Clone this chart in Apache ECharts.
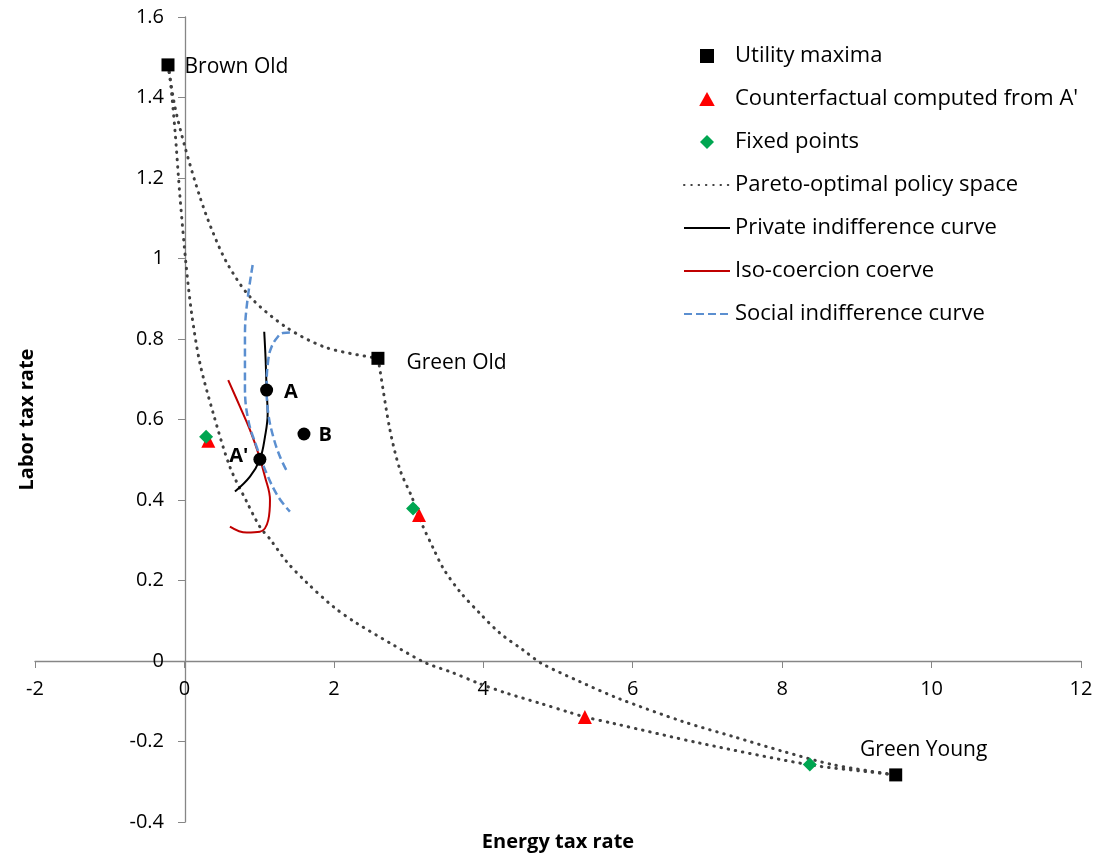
<!DOCTYPE html>
<html>
<head>
<meta charset="utf-8">
<script src="https://cdn.jsdelivr.net/npm/echarts@6/dist/echarts.min.js"></script>
<style>
html,body{margin:0;padding:0;background:#fff;}
#chart{width:1097px;height:856px;}
</style>
</head>
<body>
<div id="chart"></div>
<script>
// ---- data ----
const xTicks = [-2, 0, 2, 4, 6, 8, 10, 12];
const yTicks = [-0.4, -0.2, 0, 0.2, 0.4, 0.6, 0.8, 1, 1.2, 1.4, 1.6];

const maximaNames = ['Brown Old', 'Green Old', 'Green Young'];
const maximaX = [-0.22, 2.59, 9.52];
const maximaY = [1.481, 0.752, -0.283];

const counterX = [0.32, 3.14, 5.36];
const counterY = [0.547, 0.363, -0.139];

const fixedX = [0.29, 3.06, 8.37];
const fixedY = [0.557, 0.379, -0.257];

const pointNames = ['A', "A'", 'B'];
const pointX = [1.10, 1.01, 1.60];
const pointY = [0.673, 0.501, 0.564];

const pareto1X = [-0.22, -0.127, 0.007, 0.207, 0.368, 0.569, 0.877, 1.372, 1.908, 2.594];
const pareto1Y = [1.481, 1.377, 1.277, 1.153, 1.071, 0.989, 0.905, 0.828, 0.778, 0.752];

const pareto2X = [2.594, 2.617, 2.751, 2.885, 3.045, 3.175, 3.331, 3.465, 3.688, 3.956, 4.224, 4.535, 4.78, 5.29, 5.81, 6.68, 7.35, 8.02, 8.69, 9.52];
const pareto2Y = [0.752, 0.723, 0.574, 0.475, 0.407, 0.342, 0.280, 0.230, 0.172, 0.118, 0.069, 0.027, -0.006, -0.051, -0.093, -0.151, -0.188, -0.225, -0.258, -0.283];

const pareto3X = [-0.22, -0.194, -0.127, -0.06, 0.02, 0.096, 0.207, 0.386, 0.609, 0.833, 1.011, 1.145, 1.368, 1.636, 1.992, 2.305, 2.795, 3.22, 3.577, 3.933, 4.313, 4.759, 5.16, 5.36, 5.74, 6.90, 8.37, 9.14, 9.52];
const pareto3Y = [1.481, 1.451, 1.319, 1.154, 0.988, 0.864, 0.740, 0.615, 0.482, 0.396, 0.333, 0.303, 0.247, 0.195, 0.135, 0.094, 0.040, -0.004, -0.028, -0.055, -0.080, -0.105, -0.128, -0.139, -0.155, -0.204, -0.258, -0.275, -0.283];

const privateX = [1.068, 1.087, 1.10, 1.114, 1.078, 1.01, 0.877, 0.676];
const privateY = [0.818, 0.748, 0.673, 0.615, 0.557, 0.501, 0.458, 0.421];

const coercionX = [0.586, 0.743, 0.877, 0.988, 1.078, 1.145, 1.122, 1.01, 0.833, 0.609];
const coercionY = [0.698, 0.632, 0.574, 0.516, 0.458, 0.400, 0.350, 0.321, 0.319, 0.334];

const social1X = [0.913, 0.833, 0.81, 0.81, 0.854, 0.967, 1.10, 1.256, 1.412];
const social1Y = [0.984, 0.880, 0.806, 0.681, 0.599, 0.532, 0.466, 0.408, 0.371];

const social2X = [1.412, 1.319, 1.256, 1.167, 1.122, 1.10, 1.122, 1.189, 1.278, 1.376];
const social2Y = [0.816, 0.815, 0.807, 0.781, 0.748, 0.681, 0.615, 0.557, 0.508, 0.470];

// ---- helpers ----
const zip = (xs, ys) => xs.map((x, i) => [x, ys[i]]);
const FONT = 'Open Sans';

const maximaLabels = [
  {position: 'right', distance: 10, offset: [0, 2]},
  {position: 'right', distance: 22, offset: [0, 5]},
  {position: 'top', distance: 8, offset: [28, 0]}
];
const pointLabels = [
  {position: 'right', distance: 11, offset: [0, 2]},
  {position: 'left', distance: 5, offset: [0, -3]},
  {position: 'right', distance: 8, offset: [0, 1]}
];

const paretoStyle = {color: '#404040', width: 3, type: [0.5, 6.8], cap: 'round'};
const socialStyle = {color: '#5B8FD0', width: 2.5, type: [8, 4]};
const hiddenItem = {opacity: 0};

const GRID = {left: 35, right: 16, top: 17, bottom: 34};

const chart = echarts.init(document.getElementById('chart'), null, {renderer: 'canvas'});
chart.setOption({
  animation: false,
  backgroundColor: '#fff',
  textStyle: {fontFamily: FONT},
  grid: Object.assign({containLabel: false, outerBoundsMode: 'none'}, GRID),
  legend: {
    orient: 'vertical', left: 678, top: 40,
    itemWidth: 46, itemHeight: 14, itemGap: 21,
    symbolKeepAspect: true,
    textStyle: {fontSize: 22, color: '#000', fontFamily: FONT},
    data: [
      {name: 'Utility maxima', icon: 'path://M0,0L10,0L10,10L0,10Z'},
      {name: "Counterfactual computed from A'", icon: 'path://M5,0L10,9L0,9Z'},
      {name: 'Fixed points', icon: 'path://M5,0L10,5L5,10L0,5Z'},
      'Pareto-optimal policy space', 'Private indifference curve',
      'Iso-coercion coerve', 'Social indifference curve'
    ]
  },
  xAxis: {
    type: 'value', min: xTicks[0], max: xTicks[xTicks.length - 1], interval: 2,
    position: 'bottom', offset: -161,
    name: 'Energy tax rate', nameLocation: 'middle', nameGap: 171, nameMoveOverlap: false,
    nameTextStyle: {fontSize: 20, fontWeight: 'bold', color: '#000', fontFamily: FONT},
    axisLine: {onZero: false, lineStyle: {color: '#868686', width: 1.3}},
    axisTick: {show: true, inside: false, length: 7, lineStyle: {color: '#868686'}},
    axisLabel: {fontSize: 20, color: '#000', margin: 18, fontFamily: FONT},
    splitLine: {show: false}
  },
  yAxis: {
    type: 'value', min: yTicks[0], max: yTicks[yTicks.length - 1], interval: 0.2,
    position: 'left', offset: -150,
    name: 'Labor tax rate', nameLocation: 'middle', nameGap: 148, nameRotate: 90, nameMoveOverlap: false,
    nameTextStyle: {fontSize: 20, fontWeight: 'bold', color: '#000', fontFamily: FONT},
    axisLine: {onZero: false, lineStyle: {color: '#868686', width: 1.3}},
    axisTick: {show: true, inside: false, length: 7, lineStyle: {color: '#868686'}},
    axisLabel: {fontSize: 20, color: '#000', margin: 21, fontFamily: FONT,
      formatter: v => String(Math.round(v * 10) / 10)},
    splitLine: {show: false}
  },
  series: [
    {
      name: 'Pareto-optimal policy space', type: 'line', smooth: 0.3, symbol: 'none',
      itemStyle: Object.assign({color: '#404040'}, hiddenItem),
      lineStyle: paretoStyle, data: zip(pareto1X, pareto1Y), z: 2
    },
    {
      name: 'Pareto-optimal policy space', type: 'line', smooth: 0.3, symbol: 'none',
      itemStyle: Object.assign({color: '#404040'}, hiddenItem),
      lineStyle: paretoStyle, data: zip(pareto2X, pareto2Y), z: 2
    },
    {
      name: 'Pareto-optimal policy space', type: 'line', smooth: 0.3, symbol: 'none',
      itemStyle: Object.assign({color: '#404040'}, hiddenItem),
      lineStyle: paretoStyle, data: zip(pareto3X, pareto3Y), z: 2
    },
    {
      name: 'Private indifference curve', type: 'line', smooth: 0.4, symbol: 'none',
      itemStyle: Object.assign({color: '#000'}, hiddenItem),
      lineStyle: {color: '#000', width: 2}, data: zip(privateX, privateY), z: 3
    },
    {
      name: 'Iso-coercion coerve', type: 'line', smooth: 0.4, symbol: 'none',
      itemStyle: Object.assign({color: '#C00000'}, hiddenItem),
      lineStyle: {color: '#C00000', width: 2}, data: zip(coercionX, coercionY), z: 3
    },
    {
      name: 'Social indifference curve', type: 'line', smooth: 0.4, symbol: 'none',
      itemStyle: Object.assign({color: '#5B8FD0'}, hiddenItem),
      lineStyle: socialStyle, data: zip(social1X, social1Y), z: 3
    },
    {
      name: 'Social indifference curve', type: 'line', smooth: 0.4, symbol: 'none',
      itemStyle: Object.assign({color: '#5B8FD0'}, hiddenItem),
      lineStyle: socialStyle, data: zip(social2X, social2Y), z: 3
    },
    {
      name: 'Utility maxima', type: 'scatter', symbol: 'rect', symbolSize: 13,
      itemStyle: {color: '#000', opacity: 1}, z: 5,
      label: {show: true, color: '#000', fontSize: 21, fontFamily: FONT, formatter: p => p.name},
      data: maximaX.map((x, i) => ({name: maximaNames[i], value: [x, maximaY[i]], label: maximaLabels[i]}))
    },
    {
      name: "Counterfactual computed from A'", type: 'scatter', symbol: 'triangle', symbolSize: 14,
      itemStyle: {color: '#FF0000', opacity: 1}, z: 5,
      data: zip(counterX, counterY)
    },
    {
      name: 'Fixed points', type: 'scatter', symbol: 'diamond', symbolSize: 14,
      itemStyle: {color: '#00A651', opacity: 1}, z: 6,
      data: zip(fixedX, fixedY)
    },
    {
      name: 'Points', type: 'scatter', symbol: 'circle', symbolSize: 13,
      itemStyle: {color: '#000', opacity: 1}, z: 6,
      label: {show: true, color: '#000', fontSize: 20, fontWeight: 'bold', fontFamily: FONT, formatter: p => p.name},
      data: pointX.map((x, i) => ({name: pointNames[i], value: [x, pointY[i]], label: pointLabels[i]}))
    }
  ]
});
</script>
</body>
</html>
